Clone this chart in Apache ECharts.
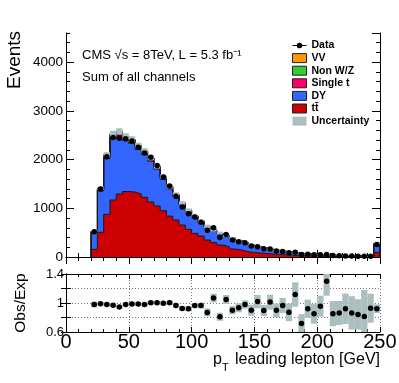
<!DOCTYPE html>
<html>
<head>
<meta charset="utf-8">
<script src="https://cdn.jsdelivr.net/npm/echarts@6/dist/echarts.min.js"></script>
<style>
  html, body { margin: 0; padding: 0; background: #fff; }
  #chart { width: 399px; height: 383px; }
</style>
</head>
<body>
<div id="chart"></div>
<script>
// bin edges in GeV (the last bin holds the overflow)
const binEdges = [20, 25, 30, 35, 40, 45, 50, 55, 60, 65, 70, 75, 80, 85, 90, 95, 100,
  105, 110, 115, 120, 125, 130, 135, 140, 145, 150, 155, 160, 165, 170, 175, 180, 185,
  190, 195, 200, 205, 210, 215, 220, 225, 230, 235, 240, 245, 250]

// expected events per bin, one list per process
const ttbar = [157, 507, 876, 1170, 1294, 1345, 1335, 1294, 1225, 1130, 1047, 951, 840, 760,
  657, 568, 486, 431, 349, 294, 246, 212, 164, 144, 109, 96, 82, 72, 62, 52, 45, 38, 32, 28,
  23, 20, 17, 14, 12, 10, 9, 7, 6, 5, 5, 96]
const drellYan = [354, 850, 1146, 1269, 1193, 1045, 999, 914, 878, 839, 758, 641, 559, 485,
  413, 363, 333, 282, 257, 245, 230, 211, 211, 177, 176, 145, 117, 106, 90, 79, 66, 57, 49,
  42, 37, 31, 26, 24, 20, 17, 14, 13, 11, 9, 7, 167]
const singleTop = [12, 35, 52, 62, 64, 62, 60, 57, 54, 50, 46, 41, 36, 32, 28, 24, 21, 19,
  16, 14, 13, 11, 10, 9, 8, 7, 6, 5, 5, 4, 4, 3, 3, 2, 2, 2, 2, 1, 1, 1, 1, 1, 1, 1, 1, 9]
const nonWZ = [4, 10, 14, 15, 14, 13, 12, 11, 10, 9, 8, 7, 6, 5, 5, 4, 4, 3, 3, 3, 2, 2, 2,
  2, 2, 1, 1, 1, 1, 1, 1, 1, 1, 1, 0, 0, 0, 0, 0, 0, 0, 0, 0, 0, 0, 2]
const diboson = [3, 8, 12, 14, 15, 15, 14, 14, 13, 12, 11, 10, 9, 8, 7, 6, 6, 5, 5, 4, 4, 4,
  3, 3, 3, 3, 2, 2, 2, 2, 2, 2, 1, 1, 1, 1, 1, 1, 1, 1, 1, 1, 1, 1, 1, 6]

// observed events per bin
const observed = [519, 1396, 2058, 2454, 2438, 2430, 2384, 2256, 2136, 2050, 1879, 1642,
  1457, 1245, 1027, 888, 820, 714, 548, 599, 401, 462, 351, 313, 292, 227, 212, 167, 162,
  124, 114, 88, 96, 53, 58, 46, 44, 52, 29, 25, 23, 19, 16, 13, 13, 258]

// relative uncertainty of the expectation (band half width)
const uncert = [0.04, 0.025, 0.025, 0.025, 0.025, 0.025, 0.025, 0.025, 0.025, 0.025,
  0.028, 0.028, 0.03, 0.03, 0.032, 0.035, 0.035, 0.04, 0.055, 0.06,
  0.055, 0.06, 0.057, 0.062, 0.057, 0.076, 0.092, 0.076, 0.103, 0.092,
  0.103, 0.122, 0.168, 0.13, 0.126, 0.138, 0.145, 0.2, 0.174, 0.166,
  0.21, 0.23, 0.21, 0.37, 0.2, 0.06]

const eventTicks = [0, 1000, 2000, 3000, 4000]
const ratioTicks = [0.6, 1, 1.4]

const font = '"Liberation Sans", Helvetica, Arial, sans-serif'
const uncColor = '#abbfbf'
const nBins = binEdges.length - 1
const centers = observed.map((v, i) => (binEdges[i] + binEdges[i + 1]) / 2)

// stack order, bottom to top
const layers = [
  { name: 'tt\u0304', vals: ttbar, color: '#cc0000' },
  { name: 'DY', vals: drellYan, color: '#3366ff' },
  { name: 'Single t', vals: singleTop, color: '#ff0066' },
  { name: 'Non W/Z', vals: nonWZ, color: '#33cc33' },
  { name: 'VV', vals: diboson, color: '#ff9900' },
]
let running = observed.map(() => 0)
layers.forEach((l) => {
  running = running.map((r, i) => r + l.vals[i])
  l.cum = running
})
const total = running
const ratio = observed.map((v, i) => v / total[i])

// histogram outline as step points
const stepPoints = (vals) => {
  const pts = [[binEdges[0], 0]]
  vals.forEach((v, i) => pts.push([binEdges[i], v]))
  pts.push([binEdges[nBins], vals[nBins - 1]])
  pts.push([binEdges[nBins], 0])
  return pts
}

const boxItem = (params, api) => {
  const a = api.coord([api.value(0), api.value(3)])
  const b = api.coord([api.value(1), api.value(2)])
  return {
    type: 'rect',
    shape: { x: a[0], y: a[1], width: b[0] - a[0], height: b[1] - a[1] },
    style: { fill: uncColor },
  }
}

const xBase = (grid, pos) => ({
  type: 'value', gridIndex: grid, position: pos, min: 0, max: 250, interval: 50,
  axisLine: { show: true, lineStyle: { color: '#000', width: 1 } },
  axisTick: { show: true, inside: true, length: grid === 0 ? 7 : 5, lineStyle: { color: '#000' } },
  minorTick: { show: true, splitNumber: 5, length: grid === 0 ? 4 : 3, lineStyle: { color: '#000' } },
  axisLabel: { show: false },
  splitLine: { show: false },
})

const yEvents = (pos, step, len, withLine, withLabel) => ({
  type: 'value', gridIndex: 0, position: pos, min: 0, max: 4600, interval: step,
  axisLine: { show: withLine, lineStyle: { color: '#000', width: 1 } },
  axisTick: { show: true, inside: true, length: len, lineStyle: { color: '#000' } },
  axisLabel: {
    show: withLabel, showMaxLabel: false, margin: 3, color: '#000', fontFamily: font, fontSize: 13.5,
    formatter: (v) => (eventTicks.includes(v) ? String(v) : ''),
  },
  splitLine: { show: false },
})

const yRatio = (pos, withLabel) => ({
  type: 'value', gridIndex: 1, position: pos, min: 0.6, max: 1.4, interval: 0.2,
  axisLine: { show: true, lineStyle: { color: '#000', width: 1 } },
  axisTick: { show: true, inside: true, length: 5, lineStyle: { color: '#000' } },
  axisLabel: {
    show: withLabel, margin: 2, color: '#000', fontFamily: font, fontSize: 13,
    formatter: (v) => {
      const hit = ratioTicks.find((t) => Math.abs(t - v) < 1e-6)
      return hit === undefined ? '' : String(hit)
    },
  },
  splitLine: {
    show: withLabel,
    lineStyle: { color: '#777', type: [1, 2], width: 1 },
  },
})

const stackSeries = layers.slice().reverse().map((l) => ({
  name: l.name,
  type: 'line',
  xAxisIndex: 0,
  yAxisIndex: 0,
  step: 'end',
  symbol: 'none',
  silent: true,
  data: stepPoints(l.cum),
  lineStyle: { color: '#1a1a1a', width: 1 },
  itemStyle: { color: l.color },
  areaStyle: { color: l.color, opacity: 1 },
  z: 2,
}))

const option = {
  animation: false,
  backgroundColor: '#fff',
  grid: [
    { left: 66, right: 19, top: 33, height: 224, outerBoundsMode: 'none' },
    { left: 66, right: 19, top: 274, height: 58, outerBoundsMode: 'none' },
  ],
  xAxis: [
    xBase(0, 'bottom'),
    xBase(0, 'top'),
    Object.assign(xBase(1, 'bottom'), {
      axisLabel: {
        show: true, margin: 0, color: '#000', fontFamily: font, fontSize: 20,
        // last label sits left of its tick, as in the original
        formatter: (v) => (v === 250 ? '{end|250}' : String(v)),
        rich: { end: { fontFamily: font, fontSize: 20, color: '#000', padding: [0, 0, 0, 0], width: 33, align: 'right' } },
      },
      splitLine: { show: true, lineStyle: { color: '#777', type: [1, 2], width: 1 } },
    }),
    xBase(1, 'top'),
  ],
  yAxis: [
    yEvents('left', 1000, 8, true, true),
    yEvents('left', 200, 4, false, false),
    yEvents('right', 1000, 8, true, false),
    yEvents('right', 200, 4, false, false),
    yRatio('left', true),
    yRatio('right', false),
  ],
  legend: {
    orient: 'vertical',
    left: 287,
    top: 35,
    itemWidth: 14,
    itemHeight: 9,
    itemGap: 1.6,
    selectedMode: false,
    textStyle: { fontFamily: font, fontSize: 10.5, fontWeight: 'bold', color: '#000', lineHeight: 9 },
    data: [
      { name: 'Data', icon: 'path://M0,4 L14,4 L14,5 L0,5 Z M7,1.7 A2.8,2.8 0 1,1 6.99,1.7 Z', itemStyle: { color: '#000' } },
      { name: 'VV', icon: 'rect', itemStyle: { color: '#ff9900', borderColor: '#222', borderWidth: 1 } },
      { name: 'Non W/Z', icon: 'rect', itemStyle: { color: '#33cc33', borderColor: '#222', borderWidth: 1 } },
      { name: 'Single t', icon: 'rect', itemStyle: { color: '#ff0066', borderColor: '#222', borderWidth: 1 } },
      { name: 'DY', icon: 'rect', itemStyle: { color: '#3366ff', borderColor: '#222', borderWidth: 1 } },
      { name: 'tt\u0304', icon: 'rect', itemStyle: { color: '#cc0000', borderColor: '#222', borderWidth: 1 } },
      { name: 'Uncertainty', icon: 'rect', itemStyle: { color: uncColor, borderWidth: 0 } },
    ],
  },
  series: [
    ...stackSeries,
    {
      name: 'Uncertainty',
      type: 'custom',
      xAxisIndex: 0,
      yAxisIndex: 0,
      clip: true,
      silent: true,
      itemStyle: { color: uncColor },
      renderItem: boxItem,
      encode: { x: [0, 1], y: [2, 3] },
      data: total.map((t, i) => [binEdges[i], binEdges[i + 1], t * (1 - uncert[i]), t * (1 + uncert[i])]),
      z: 3,
    },
    {
      name: 'Data',
      type: 'scatter',
      xAxisIndex: 0,
      yAxisIndex: 0,
      symbol: 'circle',
      symbolSize: 5.5,
      itemStyle: { color: '#000', opacity: 1 },
      data: observed.map((v, i) => [centers[i], v]),
      z: 4,
    },
    {
      name: 'ratioBand',
      type: 'custom',
      xAxisIndex: 2,
      yAxisIndex: 4,
      clip: true,
      silent: true,
      renderItem: boxItem,
      encode: { x: [0, 1], y: [2, 3] },
      data: ratio.map((r, i) => [binEdges[i], binEdges[i + 1], r - uncert[i], r + uncert[i]]),
      z: 3,
    },
    {
      name: 'ratioPoints',
      type: 'scatter',
      xAxisIndex: 2,
      yAxisIndex: 4,
      symbol: 'circle',
      symbolSize: 5.5,
      clip: true,
      itemStyle: { color: '#000', opacity: 1 },
      data: ratio.map((r, i) => [centers[i], r]),
      z: 4,
    },
  ],
  graphic: [
    { type: 'text', x: 15, y: 60, rotation: Math.PI / 2,
      style: { text: 'Events', fontFamily: font, fontSize: 19, fill: '#000', align: 'center', verticalAlign: 'middle' } },
    { type: 'text', x: 21, y: 303, rotation: Math.PI / 2,
      style: { text: 'Obs/Exp', fontFamily: font, fontSize: 15.5, fill: '#000', align: 'center', verticalAlign: 'middle' } },
    { type: 'text', x: 82, y: 55,
      style: { text: 'CMS \u221as = 8TeV, L = 5.3 fb\u207b\u00b9', fontFamily: font, fontSize: 13, fill: '#000', align: 'left', verticalAlign: 'middle' } },
    { type: 'text', x: 82, y: 77,
      style: { text: 'Sum of all channels', fontFamily: font, fontSize: 13, fill: '#000', align: 'left', verticalAlign: 'middle' } },
    { type: 'text', x: 213, y: 359.5,
      style: { text: 'p', fontFamily: font, fontSize: 16, fill: '#000', align: 'left', verticalAlign: 'middle' } },
    { type: 'text', x: 222, y: 368,
      style: { text: 'T', fontFamily: font, fontSize: 11, fill: '#000', align: 'left', verticalAlign: 'middle' } },
    { type: 'text', x: 380, y: 359.5,
      style: { text: 'leading lepton [GeV]', fontFamily: font, fontSize: 16, fill: '#000', align: 'right', verticalAlign: 'middle' } },
  ],
}

const chart = echarts.init(document.getElementById('chart'))
chart.setOption(option)
</script>
</body>
</html>
